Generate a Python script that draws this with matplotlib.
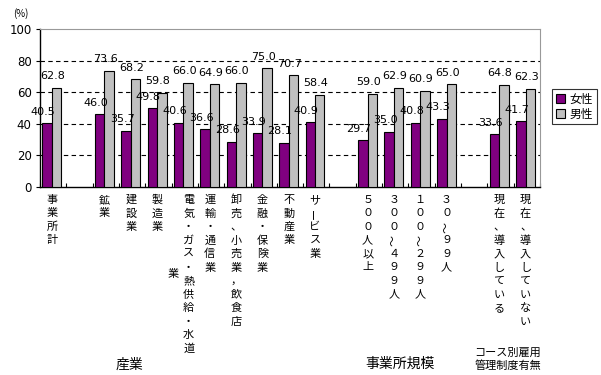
import matplotlib
matplotlib.use('Agg')
import matplotlib.pyplot as plt
import numpy as np

plt.rcParams['font.family'] = ['Noto Sans CJK JP', 'DejaVu Sans']

# slot positions (blank slots separate the three groups)
slots = [0, 2, 3, 4, 5, 6, 7, 8, 9, 10, 12, 13, 14, 15, 17, 18]
labels = ['事業所計', '鉱業', '建設業', '製造業', '電気・ガス・熱供給・水道業',
          '運輸・通信業', '卸売、小売業，飲食店', '金融・保険業', '不動産業', 'サービス業',
          '５００人以上', '３００～４９９人', '１００～２９９人', '３０～９９人',
          '現在、導入している', '現在、導入していない']
female = [40.5, 46.0, 35.7, 49.8, 40.6, 36.6, 28.6, 33.9, 28.1, 40.9,
          29.7, 35.0, 40.8, 43.3, 33.6, 41.7]
male = [62.8, 73.6, 68.2, 59.8, 66.0, 64.9, 66.0, 75.0, 70.7, 58.4,
        59.0, 62.9, 60.9, 65.0, 64.8, 62.3]
series_names = ['女性', '男性']
colors = ['#800080', '#c0c0c0']

fig = plt.figure(figsize=(6.01, 3.75), dpi=100)
ax = fig.add_axes([40 / 601, 1 - 187 / 375, 500 / 601, 158 / 375])

x = np.array(slots, dtype=float)
w = 0.36
off = -0.05
b1 = ax.bar(x + off - w / 2, female, w, color=colors[0], edgecolor='black', linewidth=0.8, zorder=3)
b2 = ax.bar(x + off + w / 2, male, w, color=colors[1], edgecolor='black', linewidth=0.8, zorder=3)

for xi, v in zip(x + off - w / 2, female):
    ax.text(xi - 0.15, v + 7.2, f'{v:.1f}', ha='center', va='center', fontsize=8,
            family='DejaVu Sans', zorder=4)
for xi, v in zip(x + off + w / 2, male):
    ax.text(xi - 0.15, v + 7.2, f'{v:.1f}', ha='center', va='center', fontsize=8,
            family='DejaVu Sans', zorder=4)

ax.set_xlim(-0.5, 18.5)
ax.set_ylim(0, 100)
ax.set_yticks([0, 20, 40, 60, 80, 100])
ax.tick_params(axis='y', direction='out', length=3, width=0.8, labelsize=8.5, pad=3)
for t in ax.get_yticklabels():
    t.set_family('DejaVu Sans')
for gy in [20, 40, 60, 80]:
    ax.axhline(gy, color='black', linestyle=(0, (4, 3)), linewidth=0.8, zorder=1)

ax.set_xticks([])
ax.set_xticks(np.arange(-0.5, 19, 1.0), minor=True)
ax.tick_params(axis='x', which='minor', direction='in', length=3, width=0.8)
ax.spines['top'].set_color('#999999')
ax.spines['top'].set_linestyle((0, (1, 1)))
ax.spines['right'].set_color('#999999')
ax.spines['right'].set_linestyle((0, (1, 1)))
ax.spines['left'].set_linewidth(1)
ax.spines['bottom'].set_linewidth(1)

# vertical stacked category labels
tr = ax.get_xaxis_transform()
step = 13.5 / 158
y0 = -13 / 158
rot_chars = {'ー': 90, '～': 90}


def vcol(xc, text, ystart):
    for k, ch in enumerate(text):
        ax.text(xc, ystart - k * step, ch, transform=tr, ha='center', va='center',
                fontsize=8, rotation=rot_chars.get(ch, 0))


for s, lab in zip(slots, labels):
    if lab == '電気・ガス・熱供給・水道業':
        main = lab[:-1]
        vcol(s + 0.15, main, y0)
        mid = y0 - (len(main) - 1) * step / 2
        vcol(s - 0.45, lab[-1], mid)
    else:
        vcol(s - 0.05, lab, y0)

fig.text(129 / 601, 1 - 365 / 375, '産業', ha='center', va='center', fontsize=10)
fig.text(400 / 601, 1 - 364 / 375, '事業所規模', ha='center', va='center', fontsize=10)
fig.text(508 / 601, 1 - 359 / 375, 'コース別雇用\n管理制度有無', ha='center', va='center',
         fontsize=8, linespacing=1.3)
fig.text(21 / 601, 1 - 14 / 375, '(%)', ha='center', va='center', fontsize=7)

leg = fig.legend([b1, b2], series_names, loc='upper left',
                 bbox_to_anchor=(552 / 601, 1 - 89 / 375), fontsize=8.5,
                 frameon=True, fancybox=False, edgecolor='black',
                 handlelength=0.8, handleheight=0.8, handletextpad=0.4,
                 borderpad=0.3, labelspacing=0.2, borderaxespad=0)
leg.get_frame().set_linewidth(0.8)

fig.savefig('out.png', dpi=100)
